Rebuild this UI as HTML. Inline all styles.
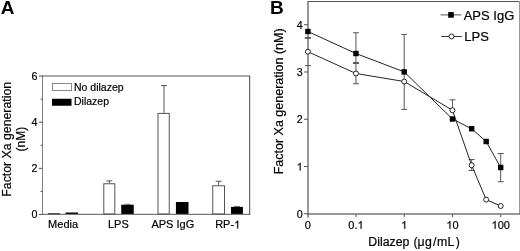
<!DOCTYPE html>
<html><head><meta charset="utf-8"><style>
html,body{margin:0;padding:0;background:#fff;}
svg{display:block;will-change:transform;}
text{font-family:"Liberation Sans", sans-serif;fill:#000;stroke:#000;stroke-width:0.2px;}
</style></head><body>
<svg width="520" height="251" viewBox="0 0 520 251">
<text x="0.8" y="13.9" font-size="19" font-weight="bold" style="stroke:none">A</text>
<line x1="42.5" y1="76" x2="42.5" y2="214.5" stroke="#808080"/>
<line x1="42" y1="76" x2="250" y2="76" stroke="#555"/>
<line x1="249.7" y1="76" x2="249.7" y2="214.5" stroke="#444"/>
<line x1="39" y1="214.5" x2="42.5" y2="214.5" stroke="#555"/>
<text x="37.5" y="218.4" font-size="10.7" text-anchor="end">0</text>
<line x1="40.5" y1="191.42000000000002" x2="42.5" y2="191.42000000000002" stroke="#555"/>
<line x1="39" y1="168.34" x2="42.5" y2="168.34" stroke="#555"/>
<text x="37.5" y="172.24" font-size="10.7" text-anchor="end">2</text>
<line x1="40.5" y1="145.26" x2="42.5" y2="145.26" stroke="#555"/>
<line x1="39" y1="122.18" x2="42.5" y2="122.18" stroke="#555"/>
<text x="37.5" y="126.08000000000001" font-size="10.7" text-anchor="end">4</text>
<line x1="40.5" y1="99.10000000000001" x2="42.5" y2="99.10000000000001" stroke="#555"/>
<line x1="39" y1="76.02000000000001" x2="42.5" y2="76.02000000000001" stroke="#555"/>
<text x="37.5" y="79.92000000000002" font-size="10.7" text-anchor="end">6</text>
<rect x="48.5" y="213.5" width="11" height="0.5" fill="#fff" stroke="#555"/>
<rect x="65.6" y="212.5" width="12.400000000000006" height="1.5" fill="#000"/>
<line x1="109.3" y1="180.85" x2="109.3" y2="183.25" stroke="#555"/>
<line x1="106.3" y1="180.85" x2="112.3" y2="180.85" stroke="#555"/>
<rect x="103.8" y="183.75" width="11.0" height="30.25" fill="#fff" stroke="#555"/>
<rect x="121.25" y="204.75" width="12.5" height="9.25" fill="#000"/>
<line x1="164" y1="85.6" x2="164" y2="112.9" stroke="#555"/>
<line x1="161" y1="85.6" x2="167" y2="85.6" stroke="#555"/>
<rect x="158.0" y="113.4" width="11.25" height="100.6" fill="#fff" stroke="#555"/>
<rect x="175.9" y="202.0" width="12.599999999999994" height="12.0" fill="#000"/>
<line x1="218.625" y1="181.25" x2="218.625" y2="185.25" stroke="#555"/>
<line x1="215.625" y1="181.25" x2="221.625" y2="181.25" stroke="#555"/>
<rect x="212.75" y="185.75" width="11.75" height="28.25" fill="#fff" stroke="#555"/>
<rect x="231" y="206.9" width="11.900000000000006" height="7.099999999999994" fill="#000"/>
<line x1="124.5" y1="204.3" x2="130.5" y2="204.3" stroke="#666"/>
<line x1="234" y1="206.4" x2="240" y2="206.4" stroke="#666"/>
<line x1="42" y1="214.3" x2="250.2" y2="214.3" stroke="#555"/>
<text x="48.12" y="228.4" font-size="11">Media</text>
<text x="108.00" y="228.4" font-size="11">LPS</text>
<text x="151.40" y="228.4" font-size="11">APS IgG</text>
<text x="215.17" y="228.4" font-size="11">RP-</text>
<path transform="translate(234.11,228.4) scale(0.00537,-0.00537)" d="M581 0V1147C538 1106 481 1065 410 1024C340 982 276 951 219 930V1104C321 1152 410 1210 486 1278C562 1346 616 1411 647 1466H762V0Z" fill="#000" stroke="#000" stroke-width="37.2"/>
<rect x="52.5" y="83.5" width="19" height="7" fill="#fff" stroke="#888"/>
<rect x="52" y="98.75" width="19.5" height="7" fill="#000"/>
<text x="74" y="90.6" font-size="10.5">No dilazep</text>
<text x="74" y="105.3" font-size="10.5">Dilazep</text>
<text transform="translate(10.6,139.3) rotate(-90)" font-size="12.3" text-anchor="middle">Factor Xa generation</text>
<text transform="translate(25.3,139.1) rotate(-90)" font-size="12" text-anchor="middle">(nM)</text>
<text x="270" y="13.9" font-size="19" font-weight="bold" style="stroke:none">B</text>
<line x1="308" y1="217.5" x2="308" y2="1" stroke="#333"/>
<line x1="308" y1="1.5" x2="520" y2="1.5" stroke="#555"/>
<line x1="519.5" y1="1" x2="519.5" y2="214" stroke="#999"/>
<line x1="308" y1="214" x2="520" y2="214" stroke="#333"/>
<line x1="304" y1="213.75" x2="308" y2="213.75" stroke="#555"/>
<text x="296.65" y="217.65" font-size="10.7">0</text>
<line x1="304" y1="166.5" x2="308" y2="166.5" stroke="#555"/>
<path transform="translate(296.65,170.4) scale(0.00522,-0.00522)" d="M581 0V1147C538 1106 481 1065 410 1024C340 982 276 951 219 930V1104C321 1152 410 1210 486 1278C562 1346 616 1411 647 1466H762V0Z" fill="#000" stroke="#000" stroke-width="38.3"/>
<line x1="304" y1="119.25" x2="308" y2="119.25" stroke="#555"/>
<text x="296.65" y="123.15" font-size="10.7">2</text>
<line x1="304" y1="72.0" x2="308" y2="72.0" stroke="#555"/>
<text x="296.65" y="75.9" font-size="10.7">3</text>
<line x1="304" y1="24.75" x2="308" y2="24.75" stroke="#555"/>
<text x="296.65" y="28.65" font-size="10.7">4</text>
<text x="304.84" y="228.8" font-size="11">0</text>
<line x1="355.95" y1="214" x2="355.95" y2="217.2" stroke="#555"/>
<text x="348.30" y="228.8" font-size="11">0.</text>
<path transform="translate(357.48,228.8) scale(0.00537,-0.00537)" d="M581 0V1147C538 1106 481 1065 410 1024C340 982 276 951 219 930V1104C321 1152 410 1210 486 1278C562 1346 616 1411 647 1466H762V0Z" fill="#000" stroke="#000" stroke-width="37.2"/>
<line x1="404.2" y1="214" x2="404.2" y2="217.2" stroke="#555"/>
<path transform="translate(401.14,228.8) scale(0.00537,-0.00537)" d="M581 0V1147C538 1106 481 1065 410 1024C340 982 276 951 219 930V1104C321 1152 410 1210 486 1278C562 1346 616 1411 647 1466H762V0Z" fill="#000" stroke="#000" stroke-width="37.2"/>
<line x1="452.45" y1="214" x2="452.45" y2="217.2" stroke="#555"/>
<path transform="translate(446.33,228.8) scale(0.00537,-0.00537)" d="M581 0V1147C538 1106 481 1065 410 1024C340 982 276 951 219 930V1104C321 1152 410 1210 486 1278C562 1346 616 1411 647 1466H762V0Z" fill="#000" stroke="#000" stroke-width="37.2"/>
<text x="452.45" y="228.8" font-size="11">0</text>
<line x1="500.7" y1="214" x2="500.7" y2="217.2" stroke="#555"/>
<path transform="translate(491.52,228.8) scale(0.00537,-0.00537)" d="M581 0V1147C538 1106 481 1065 410 1024C340 982 276 951 219 930V1104C321 1152 410 1210 486 1278C562 1346 616 1411 647 1466H762V0Z" fill="#000" stroke="#000" stroke-width="37.2"/>
<text x="497.64" y="228.8" font-size="11">00</text>
<line x1="304.9" y1="37.6" x2="310.9" y2="37.6" stroke="#555"/>
<line x1="304.9" y1="38.4" x2="310.9" y2="38.4" stroke="#555"/>
<line x1="304.9" y1="65.6" x2="310.9" y2="65.6" stroke="#555"/>
<line x1="355.95" y1="32.75" x2="355.95" y2="83.75" stroke="#555"/>
<line x1="352.95" y1="32.75" x2="358.95" y2="32.75" stroke="#555"/>
<line x1="352.95" y1="62.6" x2="358.95" y2="62.6" stroke="#555"/>
<line x1="352.95" y1="63.5" x2="358.95" y2="63.5" stroke="#555"/>
<line x1="352.95" y1="83.75" x2="358.95" y2="83.75" stroke="#555"/>
<line x1="404.2" y1="34.4" x2="404.2" y2="109.4" stroke="#555"/>
<line x1="401.2" y1="34.4" x2="407.2" y2="34.4" stroke="#555"/>
<line x1="401.2" y1="109.4" x2="407.2" y2="109.4" stroke="#555"/>
<line x1="452.45" y1="99.8" x2="452.45" y2="110" stroke="#555"/>
<line x1="449.45" y1="99.8" x2="455.45" y2="99.8" stroke="#555"/>
<line x1="471.6506054184258" y1="159.5" x2="471.6506054184258" y2="170.5" stroke="#555"/>
<line x1="468.6506054184258" y1="159.5" x2="474.6506054184258" y2="159.5" stroke="#555"/>
<line x1="468.6506054184258" y1="170.5" x2="474.6506054184258" y2="170.5" stroke="#555"/>
<line x1="500.7" y1="153.5" x2="500.7" y2="181.7" stroke="#555"/>
<line x1="497.7" y1="153.5" x2="503.7" y2="153.5" stroke="#555"/>
<line x1="497.7" y1="181.7" x2="503.7" y2="181.7" stroke="#555"/>
<polyline points="307.90,31.5 355.95,53.5 404.20,71.9 452.45,119 471.65,128.75 486.18,141.5 500.70,167.5" fill="none" stroke="#222" stroke-width="1"/>
<polyline points="307.90,51.7 355.95,73.5 404.20,81.5 452.45,110.25 471.65,165.25 486.18,199.6 500.70,206" fill="none" stroke="#222" stroke-width="1"/>
<circle cx="307.90" cy="51.7" r="2.5" fill="#fff" stroke="#222"/>
<circle cx="355.95" cy="73.5" r="2.5" fill="#fff" stroke="#222"/>
<circle cx="404.20" cy="81.5" r="2.5" fill="#fff" stroke="#222"/>
<circle cx="452.45" cy="110.25" r="2.5" fill="#fff" stroke="#222"/>
<circle cx="471.65" cy="165.25" r="2.5" fill="#fff" stroke="#222"/>
<circle cx="486.18" cy="199.6" r="2.5" fill="#fff" stroke="#222"/>
<circle cx="500.70" cy="206" r="2.5" fill="#fff" stroke="#222"/>
<rect x="305.20" y="28.8" width="5.4" height="5.4" fill="#000"/>
<rect x="353.25" y="50.8" width="5.4" height="5.4" fill="#000"/>
<rect x="401.50" y="69.2" width="5.4" height="5.4" fill="#000"/>
<rect x="449.75" y="116.3" width="5.4" height="5.4" fill="#000"/>
<rect x="468.95" y="126.05" width="5.4" height="5.4" fill="#000"/>
<rect x="483.48" y="138.8" width="5.4" height="5.4" fill="#000"/>
<rect x="498.00" y="164.8" width="5.4" height="5.4" fill="#000"/>
<line x1="440.6" y1="14.9" x2="461.3" y2="14.9" stroke="#555"/>
<rect x="448.2" y="12.1" width="5.6" height="5.6" fill="#000"/>
<text x="463.7" y="19.5" font-size="13">APS IgG</text>
<line x1="441.3" y1="36.5" x2="461.8" y2="36.5" stroke="#333"/>
<circle cx="451.5" cy="36.5" r="2.5" fill="#fff" stroke="#222"/>
<text x="464.3" y="41.2" font-size="13">LPS</text>
<text transform="translate(282.7,101.35) rotate(-90)" font-size="12.5" text-anchor="middle">Factor Xa generation (nM)</text>
<text x="368.3" y="246.3" font-size="12.3">Dilazep</text>
<text x="413.5 417.6 425.1 433 437.1 447.4 455.8" y="246.3" font-size="12.3">(μg/mL)</text>
</svg>
</body></html>
